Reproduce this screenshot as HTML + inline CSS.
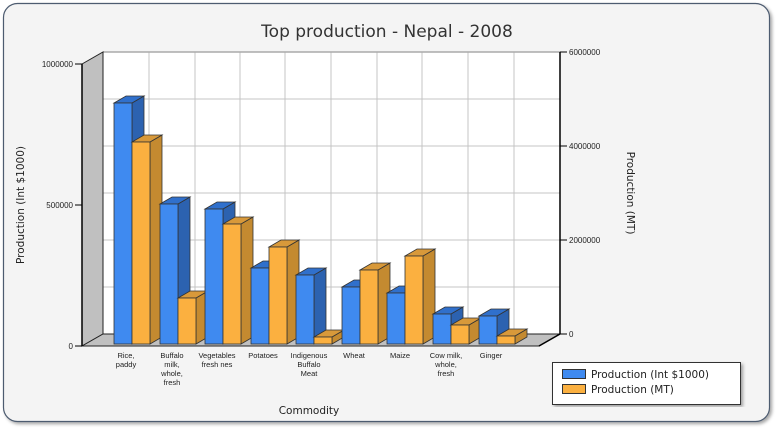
<!DOCTYPE html>
<html><head><meta charset="utf-8"><style>
html,body{margin:0;padding:0;background:#fff;}
svg{display:block;font-family:"Liberation Sans",sans-serif;}
</style></head><body>
<svg width="776" height="429" viewBox="0 0 776 429" xmlns="http://www.w3.org/2000/svg">
<defs><filter id="sh" x="-5%" y="-5%" width="110%" height="110%"><feDropShadow dx="2" dy="2" stdDeviation="1.5" flood-color="#000" flood-opacity="0.35"/></filter></defs>
<rect x="3.5" y="3.5" width="766" height="418" rx="14" fill="#f4f4f4" stroke="#4d5b70" stroke-width="1.2" filter="url(#sh)"/>
<text x="387" y="37" text-anchor="middle" font-family="DejaVu Sans,sans-serif" font-size="17" fill="#333">Top production - Nepal - 2008</text>
<!-- back wall -->
<rect x="103" y="52" width="457" height="282" fill="#fff"/>
<g stroke="#c4c4c4" stroke-width="1">
<line x1="103" y1="99" x2="560" y2="99"/><line x1="103" y1="146" x2="560" y2="146"/><line x1="103" y1="193" x2="560" y2="193"/><line x1="103" y1="240" x2="560" y2="240"/><line x1="103" y1="287" x2="560" y2="287"/>
<line x1="149" y1="52" x2="149" y2="334"/><line x1="195" y1="52" x2="195" y2="334"/><line x1="240" y1="52" x2="240" y2="334"/><line x1="285" y1="52" x2="285" y2="334"/><line x1="331" y1="52" x2="331" y2="334"/><line x1="377" y1="52" x2="377" y2="334"/><line x1="422" y1="52" x2="422" y2="334"/><line x1="468" y1="52" x2="468" y2="334"/><line x1="514" y1="52" x2="514" y2="334"/>
</g>
<line x1="103" y1="52" x2="560" y2="52" stroke="#aaa" stroke-width="1.5"/>
<!-- left wall & floor -->
<polygon points="82,64 103,52 103,334 82,346" fill="#c0c0c0" stroke="#222" stroke-width="1"/>
<polygon points="82,346 103,334 560,334 539,346" fill="#c0c0c0" stroke="#222" stroke-width="1"/>
<line x1="82" y1="64" x2="82" y2="346" stroke="#000" stroke-width="1.5"/>
<line x1="560" y1="52" x2="560" y2="334" stroke="#000" stroke-width="1.5"/>
<line x1="539" y1="346" x2="560" y2="334" stroke="#000" stroke-width="1.5"/>
<g stroke="#000"><line x1="75" y1="64" x2="82" y2="64"/><line x1="75" y1="205" x2="82" y2="205"/><line x1="75" y1="346" x2="82" y2="346"/>
<line x1="560" y1="52" x2="567" y2="52"/><line x1="560" y1="146" x2="567" y2="146"/><line x1="560" y1="240" x2="567" y2="240"/><line x1="560" y1="334" x2="567" y2="334"/></g>
<g font-size="8" fill="#222" text-anchor="end"><text x="73" y="67">1000000</text><text x="73" y="208">500000</text><text x="73" y="349">0</text></g>
<g font-size="8" fill="#222"><text x="569" y="55">6000000</text><text x="569" y="149">4000000</text><text x="569" y="243">2000000</text><text x="569" y="337">0</text></g>
<g id="bars" stroke="#333" stroke-width="0.8"></g>
<g font-size="7.5" fill="#222" text-anchor="middle">
<text x="126" y="358">Rice,</text><text x="126" y="367">paddy</text>
<text x="172" y="358">Buffalo</text><text x="172" y="367">milk,</text><text x="172" y="376">whole,</text><text x="172" y="385">fresh</text>
<text x="217" y="358">Vegetables</text><text x="217" y="367">fresh nes</text>
<text x="263" y="358">Potatoes</text>
<text x="309" y="358">Indigenous</text><text x="309" y="367">Buffalo</text><text x="309" y="376">Meat</text>
<text x="354" y="358">Wheat</text>
<text x="400" y="358">Maize</text>
<text x="446" y="358">Cow milk,</text><text x="446" y="367">whole,</text><text x="446" y="376">fresh</text>
<text x="491" y="358">Ginger</text>
</g>
<text x="309" y="414" text-anchor="middle" font-family="DejaVu Sans,sans-serif" font-size="10.5" fill="#222">Commodity</text>
<text transform="translate(24,205) rotate(-90)" text-anchor="middle" font-family="DejaVu Sans,sans-serif" font-size="10.5" fill="#222">Production (Int $1000)</text>
<text transform="translate(627,193) rotate(90)" text-anchor="middle" font-family="DejaVu Sans,sans-serif" font-size="10.5" fill="#222">Production (MT)</text>
<rect x="552.5" y="362.5" width="188" height="42" fill="#fff" stroke="#333" filter="url(#sh)"/>
<rect x="562.5" y="369.5" width="23" height="9" fill="#3f8af0" stroke="#333"/>
<rect x="562.5" y="384.5" width="23" height="9" fill="#fbb040" stroke="#333"/>
<g font-family="DejaVu Sans,sans-serif" font-size="10.5" fill="#222"><text x="591" y="378">Production (Int $1000)</text><text x="591" y="393">Production (MT)</text></g>
</svg>
<script>
var bx=[114,160,205,251,296,342,387,433,479];
var bt=[103,204,209,268,275,287,293,314,316];
var ot=[142,298,224,247,337,270,256,325,336];
var g=document.getElementById('bars'),s='';
function bar(x,t,f,tp,sd){var b=344,w=18,dx=12,dy=7;
s+='<polygon points="'+(x+w)+','+t+' '+(x+w+dx)+','+(t-dy)+' '+(x+w+dx)+','+(b-dy)+' '+(x+w)+','+b+'" fill="'+sd+'"/>';
s+='<polygon points="'+x+','+t+' '+(x+dx)+','+(t-dy)+' '+(x+w+dx)+','+(t-dy)+' '+(x+w)+','+t+'" fill="'+tp+'"/>';
s+='<rect x="'+x+'" y="'+t+'" width="'+w+'" height="'+(b-t)+'" fill="'+f+'"/>';}
for(var i=0;i<9;i++){bar(bx[i],bt[i],'#3f8af0','#3070cc','#2c62b0');bar(bx[i]+18,ot[i],'#fbb040','#d8993a','#c48a30');}
g.innerHTML=s;
var ax=document.createElementNS('http://www.w3.org/2000/svg','g');
</script>
</body></html>
